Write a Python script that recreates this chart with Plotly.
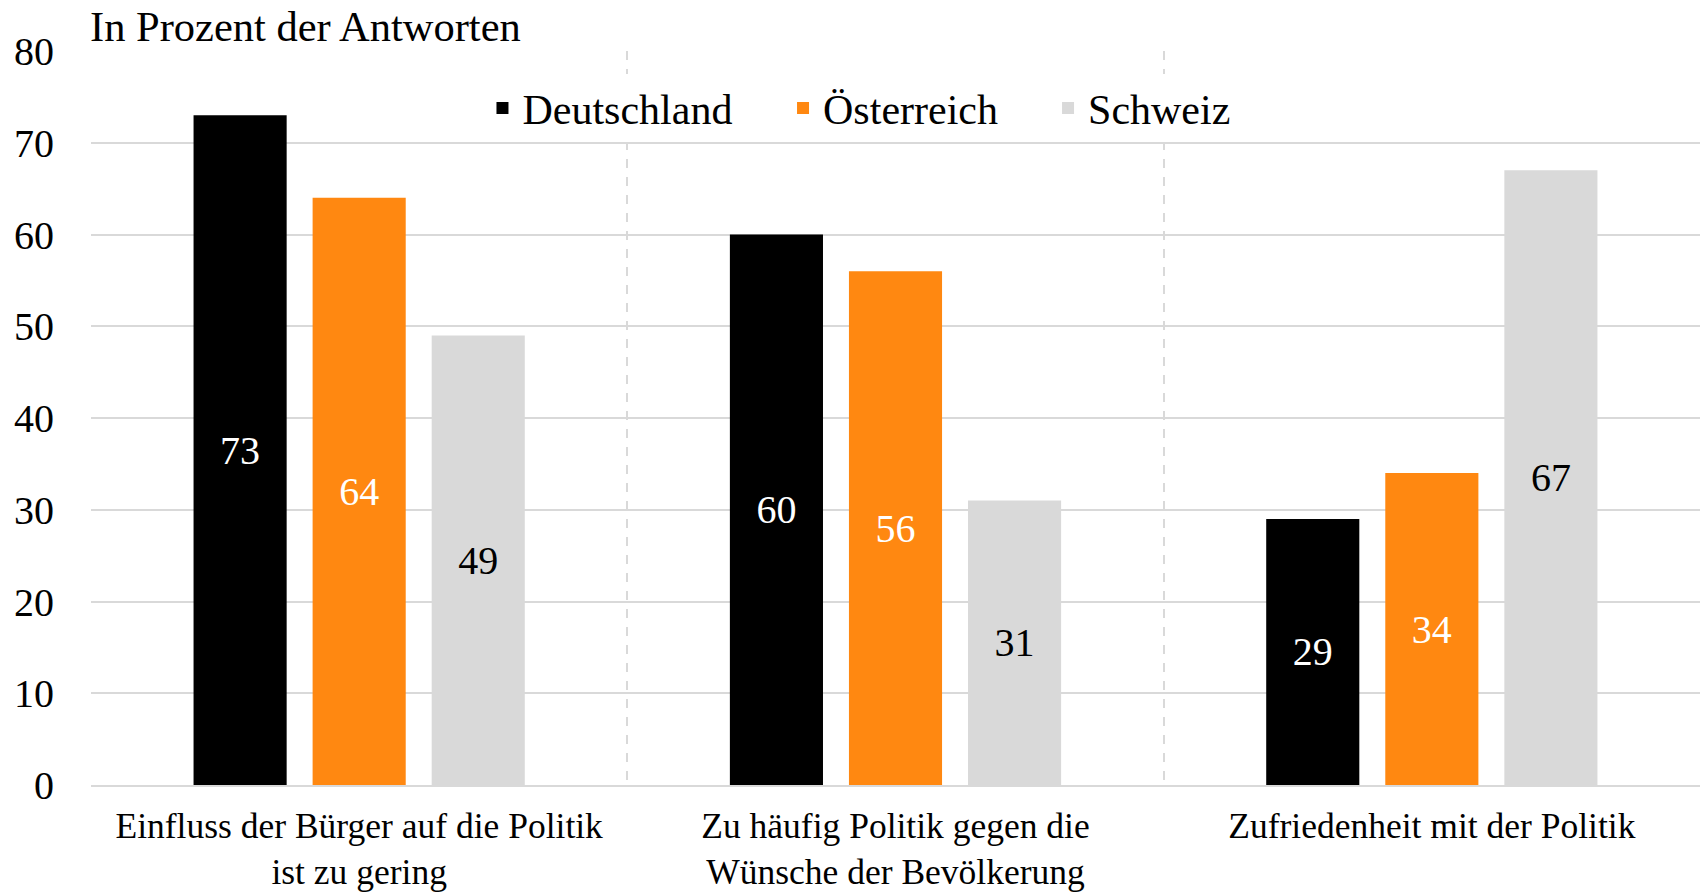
import plotly.graph_objects as go

categories = [
    "Einfluss der Bürger auf die Politik<br>ist zu gering",
    "Zu häufig Politik gegen die<br>Wünsche der Bevölkerung",
    "Zufriedenheit mit der Politik",
]
series_names = ["Deutschland", "Österreich", "Schweiz"]
deutschland = [73, 60, 29]
oesterreich = [64, 56, 34]
schweiz = [49, 31, 67]
y_ticks = [0, 10, 20, 30, 40, 50, 60, 70, 80]
y_title = "In Prozent der Antworten"

colors = ["#000000", "#FF8811", "#D9D9D9"]
label_colors = ["#FFFFFF", "#FFFFFF", "#000000"]
legend_ids = ["legend", "legend2", "legend3"]
legend_x = [0.2433, 0.4301, 0.5948]
FONT = "Liberation Serif, Times New Roman, serif"

fig = go.Figure()
for name, vals, c, lc, lg in zip(series_names, [deutschland, oesterreich, schweiz],
                                 colors, label_colors, legend_ids):
    fig.add_trace(go.Bar(
        name=name, x=categories, y=vals, legend=lg,
        marker=dict(color=c, line=dict(width=0)),
        text=[str(v) for v in vals],
        textposition="inside", insidetextanchor="middle",
        textangle=0, constraintext="none",
        textfont=dict(family=FONT, size=40, color=lc),
        hoverinfo="x+y+name",
    ))

legend_style = dict(
    orientation="h", y=0.922, xanchor="left", yanchor="middle",
    bgcolor="white", font=dict(family=FONT, size=42, color="#000000"),
)

fig.update_layout(
    width=1703, height=893,
    margin=dict(l=91, r=3, t=51, b=108, autoexpand=False),
    paper_bgcolor="white", plot_bgcolor="white",
    barmode="group", bargap=0.334, bargroupgap=0.218,
    font=dict(family=FONT, size=40, color="#000000"),
    showlegend=True,
    legend=dict(x=legend_x[0], **legend_style),
    legend2=dict(x=legend_x[1], **legend_style),
    legend3=dict(x=legend_x[2], **legend_style),
    xaxis=dict(
        type="category", tickson="boundaries", automargin=False,
        showgrid=True, gridcolor="#D9D9D9", gridwidth=1.5, griddash="dash",
        showline=True, linecolor="#D9D9D9", linewidth=2,
        ticks="", tickfont=dict(family=FONT, size=35.5, color="#000000"),
        ticklabelstandoff=8,
    ),
    yaxis=dict(
        range=[0, 80], tickvals=y_ticks, ticktext=[str(t) for t in y_ticks],
        automargin=False,
        showgrid=True, gridcolor="#D9D9D9", gridwidth=1.5,
        zeroline=False, showline=False, ticks="",
        tickfont=dict(family=FONT, size=40, color="#000000"),
        ticklabelstandoff=36,
    ),
    annotations=[dict(
        text=y_title, xref="paper", yref="paper",
        x=-0.002, y=1.0327, xanchor="left", yanchor="middle",
        showarrow=False, font=dict(family=FONT, size=42.5, color="#000000"),
    )],
)

# remove the browser's default 8px body margin so the figure fills the window exactly
fig.write_html(
    "out.html",
    config={"displayModeBar": False},
    post_script="document.body.style.margin='0';",
)
